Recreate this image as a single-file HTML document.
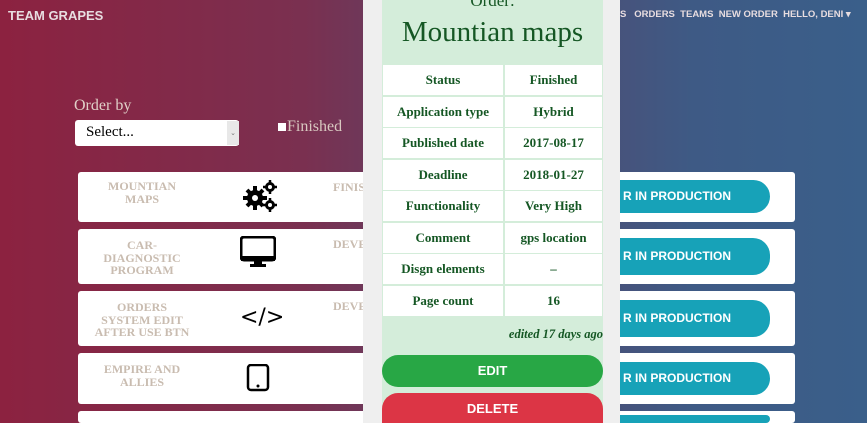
<!DOCTYPE html>
<html style="width:867px;height:423px;overflow:hidden"><head><meta charset="utf-8"><style>
*{margin:0;padding:0;box-sizing:border-box}
html,body{width:867px;height:423px;overflow:hidden}
body{position:relative;font-family:"Liberation Serif",serif;background:linear-gradient(to right,#8c2240 0%,#7a3050 35%,#524a70 60%,#3e5a85 80%,#3a5f8a 100%)}
.nav{position:absolute;top:8px;color:#e8dde0;font-family:"Liberation Sans",sans-serif;font-weight:bold;white-space:nowrap}
.card{position:absolute;left:78px;width:717px;background:#fff;border-radius:3px;overflow:hidden}
.name{position:absolute;left:0;width:128px;text-align:center;color:#c9bcb0;font-weight:bold;font-size:12px;line-height:12.5px}
.ico{position:absolute;left:162px;width:36px;text-align:center}
.st{position:absolute;left:255px;color:#c9bcb0;font-weight:bold;font-size:12px}
.tb{position:absolute;left:520px;width:172px;height:33px;background:#17a2b8;border-radius:17px;color:#fff;font-family:"Liberation Sans",sans-serif;font-weight:bold;font-size:12px;line-height:33px;padding-left:25px;white-space:nowrap}
.panel{position:absolute;left:363px;top:0;width:257px;height:423px;background:#efefef}
.green{position:absolute;left:382px;top:0;width:221px;height:423px;background:#d4edda}
.row{position:absolute;left:383px;height:30px;font-size:13px;font-weight:bold;color:#155724;line-height:30px;text-align:center}
.c1{position:absolute;left:0;width:120px;background:#fff;height:30px}
.c2{position:absolute;left:122px;width:97px;background:#fff;height:30px}
.btn{position:absolute;left:382px;width:221px;height:32px;border-radius:16px;color:#fff;font-family:"Liberation Sans",sans-serif;font-weight:bold;font-size:13px;text-align:center;line-height:32px}
</style></head><body>
<div class="nav" style="left:8px;font-size:13px">TEAM GRAPES</div>
<div class="nav" style="left:620px;font-size:9.5px;top:9px">S&nbsp;&nbsp; ORDERS&nbsp; TEAMS&nbsp; NEW ORDER&nbsp; HELLO, DENI ▾</div>
<div style="position:absolute;left:74px;top:97px;color:#e0d0c8;font-size:16px">Order by</div>
<div style="position:absolute;left:75px;top:120px;width:164px;height:26px;background:#fff;border-radius:3px;font-size:15px;padding:4px 11px;color:#000">Select...</div>
<div style="position:absolute;left:227px;top:121px;width:12px;height:24px;background:#e8e8e8;font-size:7px;text-align:center;line-height:24px;color:#777">⌄</div>
<div style="position:absolute;left:278px;top:118px;color:#d8c8c0;font-size:16px"><span style="display:inline-block;width:8px;height:8px;background:#fff;margin-right:1px"></span>Finished</div>

<div class="card" style="top:172px;height:50px"><div class="name" style="top:8px">MOUNTIAN<br>MAPS</div><div class="ico" style="top:6px"><svg width="40" height="36" viewBox="0 0 40 36"><g fill="#000"><circle cx="15" cy="20" r="8"/><circle cx="30" cy="9" r="5"/><circle cx="30" cy="27" r="5"/></g><g stroke="#000" stroke-width="4"><line x1="15" y1="8" x2="15" y2="32"/><line x1="3" y1="20" x2="27" y2="20"/><line x1="7" y1="12" x2="23" y2="28"/><line x1="23" y1="12" x2="7" y2="28"/></g><g stroke="#000" stroke-width="2.5"><line x1="30" y1="2" x2="30" y2="16"/><line x1="23" y1="9" x2="37" y2="9"/><line x1="30" y1="20" x2="30" y2="34"/><line x1="23" y1="27" x2="37" y2="27"/></g><circle cx="15" cy="20" r="3" fill="#fff"/><circle cx="30" cy="9" r="2" fill="#fff"/><circle cx="30" cy="27" r="2" fill="#fff"/></svg></div><div class="st" style="top:8px">FINISHED</div><div class="tb" style="top:8px">R IN PRODUCTION</div></div>
<div class="card" style="top:229px;height:55px"><div class="name" style="top:10px">CAR-<br>DIAGNOSTIC<br>PROGRAM</div><div class="ico" style="top:7px"><svg width="36" height="32"><rect x="1" y="1" width="34" height="23" rx="3" fill="none" stroke="#000" stroke-width="3"/><rect x="1" y="20" width="34" height="5" fill="#000"/><rect x="14" y="24" width="8" height="5" fill="#000"/><rect x="10" y="28" width="16" height="3" fill="#000"/></svg></div><div class="st" style="top:8px">DEVELOPMENT</div><div class="tb" style="top:9px;height:37px;line-height:37px">R IN PRODUCTION</div></div>
<div class="card" style="top:291px;height:55px"><div class="name" style="top:10px">ORDERS<br>SYSTEM EDIT<br>AFTER USE BTN</div><div class="ico" style="top:14px;font-family:'DejaVu Sans';font-size:22px;line-height:26px">&lt;/&gt;</div><div class="st" style="top:8px">DEVELOPMENT</div><div class="tb" style="top:9px;height:37px;line-height:37px">R IN PRODUCTION</div></div>
<div class="card" style="top:353px;height:51px"><div class="name" style="top:10px">EMPIRE AND<br>ALLIES</div><div class="ico" style="top:11px"><svg width="36" height="28"><rect x="8" y="1" width="20" height="25" rx="3" fill="none" stroke="#000" stroke-width="2.5"/><circle cx="18" cy="22" r="1.5"/></svg></div><div class="tb" style="top:9px">R IN PRODUCTION</div></div>
<div class="card" style="top:411px;height:12px"><div class="tb" style="top:4px;height:8px"></div></div>

<div class="panel"></div>
<div class="green"></div>
<div style="position:absolute;left:382px;width:221px;top:-9px;text-align:center;color:#155724;font-size:17px">Order:</div>
<div style="position:absolute;left:382px;width:221px;top:14px;text-align:center;color:#155724;font-size:29px;line-height:36px">Mountian maps</div>

<div class="row" style="top:65px"><div class="c1">Status</div><div class="c2">Finished</div></div>
<div class="row" style="top:97px"><div class="c1">Application type</div><div class="c2">Hybrid</div></div>
<div class="row" style="top:128px"><div class="c1">Published date</div><div class="c2">2017-08-17</div></div>
<div class="row" style="top:160px"><div class="c1">Deadline</div><div class="c2">2018-01-27</div></div>
<div class="row" style="top:191px"><div class="c1">Functionality</div><div class="c2">Very High</div></div>
<div class="row" style="top:223px"><div class="c1">Comment</div><div class="c2">gps location</div></div>
<div class="row" style="top:254px"><div class="c1">Disgn elements</div><div class="c2">–</div></div>
<div class="row" style="top:286px"><div class="c1">Page count</div><div class="c2">16</div></div>

<div style="position:absolute;left:382px;width:221px;top:327px;text-align:right;color:#155724;font-size:12.5px;font-style:italic;font-weight:bold">edited 17 days ago</div>
<div class="btn" style="top:355px;background:#28a745">EDIT</div>
<div class="btn" style="top:393px;height:30px;line-height:32px;border-radius:16px 16px 0 0;background:#dc3545">DELETE</div>
</body></html>
